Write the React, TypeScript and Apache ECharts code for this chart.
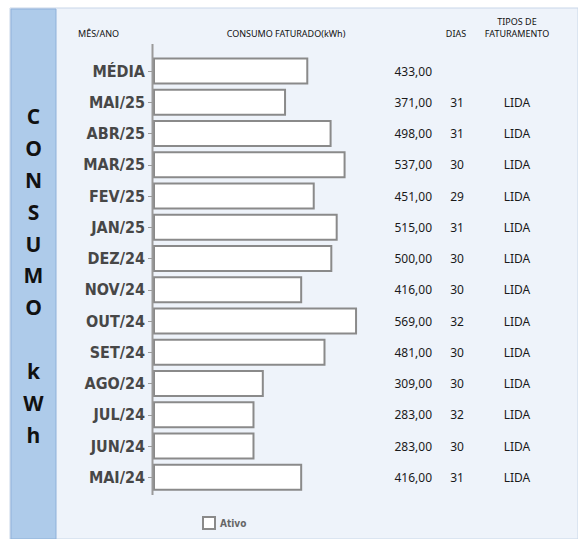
import React, { useEffect, useRef } from "react";
import * as echarts from "echarts";

const categories = ["MÉDIA", "MAI/25", "ABR/25", "MAR/25", "FEV/25", "JAN/25", "DEZ/24", "NOV/24", "OUT/24", "SET/24", "AGO/24", "JUL/24", "JUN/24", "MAI/24"];
const consumo = [433, 371, 498, 537, 451, 515, 500, 416, 569, 481, 309, 283, 283, 416];
const dias = ["", "31", "31", "30", "29", "31", "30", "30", "32", "30", "30", "32", "30", "31"];
const tipos = ["", "LIDA", "LIDA", "LIDA", "LIDA", "LIDA", "LIDA", "LIDA", "LIDA", "LIDA", "LIDA", "LIDA", "LIDA", "LIDA"];
const sideLetters = ["C", "O", "N", "S", "U", "M", "O", "", "k", "W", "h"];
const headers = { mes: "MÊS/ANO", consumo: "CONSUMO FATURADO(kWh)", dias: "DIAS", tipos1: "TIPOS DE", tipos2: "FATURAMENTO" };
const legendName = "Ativo";

const fmt = (v: number) => v.toFixed(2).replace(".", ",");

export default function App() {
  const ref = useRef<HTMLDivElement>(null);
  useEffect(() => {
    document.body.style.margin = "0";
    const chart = echarts.init(ref.current!, null, { renderer: "svg" });
    const rowFont = { fontFamily: "Noto Sans", fontSize: 12, color: "#1a1a1a" };
    const headFont = "9px 'Noto Sans'";
    chart.setOption({
      animation: false,
      backgroundColor: "#ffffff",
      legend: {
        data: [legendName],
        left: 197,
        top: 511,
        icon: "rect",
        itemWidth: 12,
        itemHeight: 12,
        textStyle: { fontFamily: "DejaVu Sans Condensed", fontWeight: "bold", fontSize: 10, color: "#666" },
      },
      grid: { left: 153, top: 55.4, width: 279, height: 437.6, containLabel: false },
      xAxis: { type: "value", min: 0, max: 778, show: false },
      yAxis: [
        {
          type: "category",
          data: categories,
          inverse: true,
          position: "left",
          axisLine: { show: false },
          axisTick: { show: true, alignWithLabel: true, length: 5, lineStyle: { color: "#9a9a9a", width: 1 } },
          axisLabel: { margin: 8, fontFamily: "DejaVu Sans Condensed", fontWeight: "bold", fontSize: 16, color: "#474747" },
        },
        {
          type: "category",
          data: consumo.map(fmt),
          inverse: true,
          position: "right",
          offset: 0,
          axisLine: { show: false },
          axisTick: { show: false },
          axisLabel: { margin: 0, align: "right", ...rowFont },
        },
        {
          type: "category",
          data: dias,
          inverse: true,
          position: "right",
          offset: 25,
          axisLine: { show: false },
          axisTick: { show: false },
          axisLabel: { margin: 0, align: "center", ...rowFont },
        },
        {
          type: "category",
          data: tipos,
          inverse: true,
          position: "right",
          offset: 85,
          axisLine: { show: false },
          axisTick: { show: false },
          axisLabel: { margin: 0, align: "center", ...rowFont },
        },
      ],
      series: [
        {
          name: legendName,
          type: "bar",
          yAxisIndex: 0,
          data: consumo,
          barWidth: 27,
          itemStyle: { color: "#ffffff", borderColor: "#8a8a8a", borderWidth: 2 },
        },
      ],
      graphic: [
        { type: "rect", z: -10, shape: { x: 10, y: 8, width: 568, height: 531 }, style: { fill: "#eef3fa", stroke: "#c8d6e8", lineWidth: 1 } },
        { type: "rect", z: -9, shape: { x: 11, y: 9, width: 45, height: 530 }, style: { fill: "#aecbea", stroke: "#8fb1d9", lineWidth: 1 } },
        {
          type: "text",
          z: 5,
          x: 33.5,
          y: 100,
          style: {
            text: sideLetters.join("\n"),
            lineHeight: 31.9,
            font: "bold 21px 'Open Sans'",
            fill: "#111",
            textAlign: "center",
            textVerticalAlign: "top",
          },
        },
        { type: "line", z: 5, shape: { x1: 152.5, y1: 44, x2: 152.5, y2: 495 }, style: { stroke: "#9a9a9a", lineWidth: 2 } },
        { type: "text", z: 5, x: 78, y: 33, style: { text: headers.mes, font: headFont, fill: "#111", textAlign: "left", textVerticalAlign: "middle" } },
        { type: "text", z: 5, x: 286, y: 33, style: { text: headers.consumo, font: headFont, fill: "#111", textAlign: "center", textVerticalAlign: "middle" } },
        { type: "text", z: 5, x: 456, y: 33, style: { text: headers.dias, font: headFont, fill: "#111", textAlign: "center", textVerticalAlign: "middle" } },
        { type: "text", z: 5, x: 517, y: 21.5, style: { text: headers.tipos1, font: headFont, fill: "#111", textAlign: "center", textVerticalAlign: "middle" } },
        { type: "text", z: 5, x: 517, y: 33, style: { text: headers.tipos2, font: headFont, fill: "#111", textAlign: "center", textVerticalAlign: "middle" } },
      ],
    });
    return () => chart.dispose();
  }, []);
  return <div ref={ref} style={{ width: 578, height: 539 }} />;
}
